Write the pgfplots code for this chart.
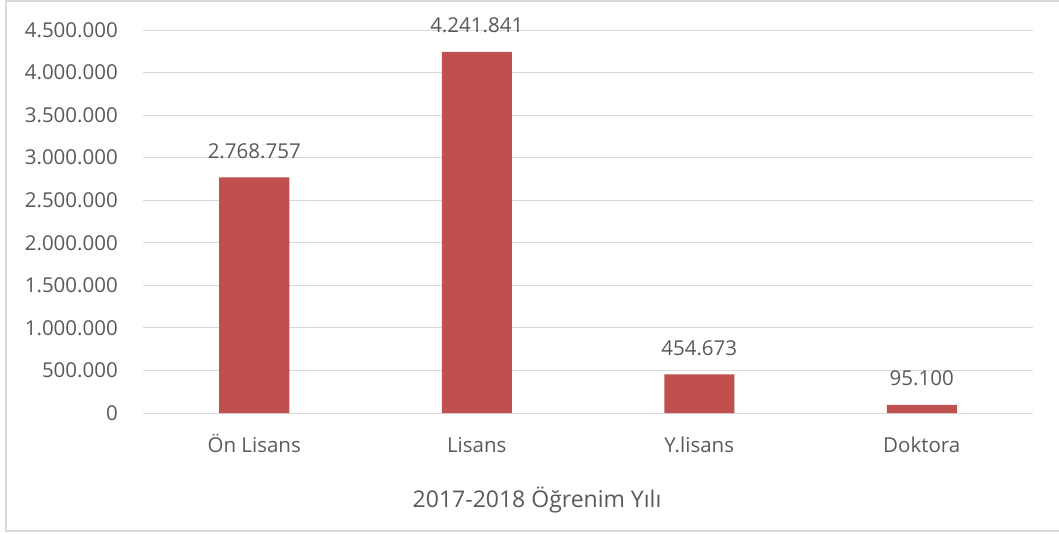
\documentclass[border=0pt]{standalone}
\usepackage{pgfplots}
\pgfplotsset{compat=1.18}
\usepackage{fontspec}
\setmainfont{Open Sans}
\definecolor{barred}{HTML}{C0504D}
\definecolor{gridgray}{HTML}{D9D9D9}
\definecolor{txtgray}{HTML}{595959}
\begin{document}
\begin{tikzpicture}
\useasboundingbox (-143pt,-120pt) rectangle (916pt,413pt);
% chart area border (right side falls outside the page)
\draw[gridgray, line width=1.5pt] (916pt,412pt) -- (-137pt,412pt) -- (-137pt,-118pt) -- (916pt,-118pt);
\begin{axis}[
    scale only axis,
    width=890pt, height=383pt,
    xmin=-0.5, xmax=3.5,
    ymin=0, ymax=4500000,
    ybar, bar width=70pt,
    xtick=data,
    xticklabels={Ön Lisans, Lisans, Y.lisans, Doktora},
    ytick={0,500000,...,4500000},
    scaled y ticks=false,
    ymajorgrids,
    grid style={gridgray, line width=1pt},
    axis line style={draw=none},
    major tick length=0pt,
    clip=false,
    /pgf/number format/fixed,
    /pgf/number format/precision=0,
    /pgf/number format/1000 sep={.},
    /pgf/number format/assume math mode=true,
    tick label style={font=\fontsize{20.5}{24}\selectfont, text=txtgray},
    yticklabel style={anchor=east, inner sep=0pt, xshift=-25pt},
    xticklabel style={anchor=base, inner sep=0pt, yshift=-39pt},
    nodes near coords={\pgfmathprintnumber[fixed,precision=0,1000 sep={.},assume math mode=true]{\pgfplotspointmeta}},
    nodes near coords style={font=\fontsize{20.5}{24}\selectfont, text=txtgray,
                             anchor=base, inner sep=0pt, yshift=19pt},
  ]
% PLOT: students per level
\addplot[fill=barred, draw=none]
coordinates {
  (0,2768757)
  (1,4241841)
  (2,454673)
  (3,95100)
};
\end{axis}
\node[text=txtgray, font=\fontsize{23}{28}\selectfont] at (394pt,-87pt) {2017-2018 Öğrenim Yılı};
\end{tikzpicture}
\end{document}
